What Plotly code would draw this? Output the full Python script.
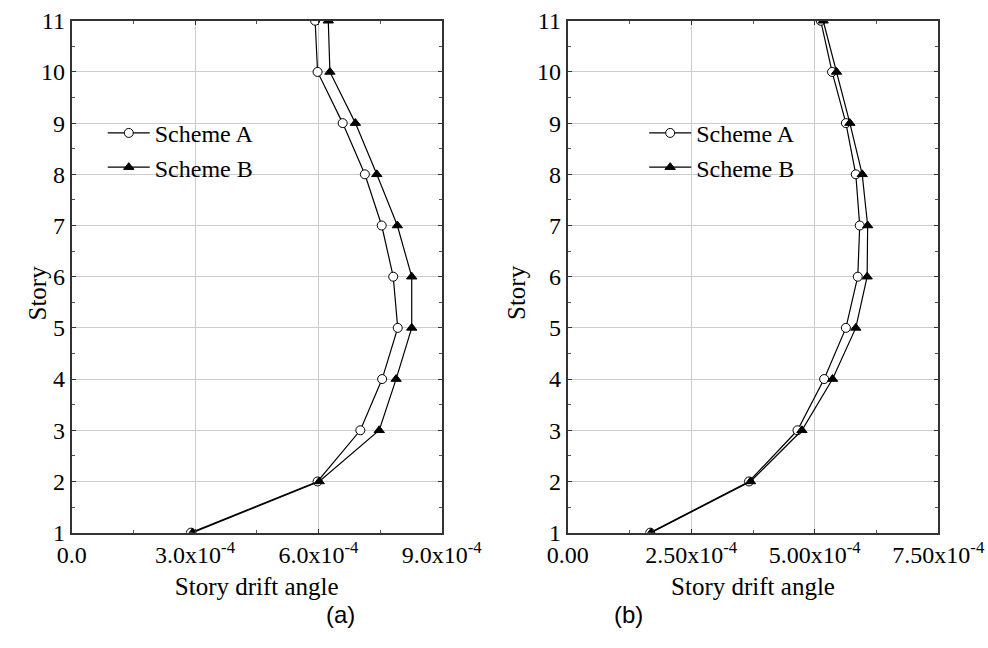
import plotly.graph_objects as go

stories = [1, 2, 3, 4, 5, 6, 7, 8, 9, 10, 11]

# (a) story drift angle, units of 1e-4
a_scheme_a = [2.90, 5.98, 7.02, 7.55, 7.93, 7.82, 7.54, 7.13, 6.59, 5.98, 5.92]
a_scheme_b = [2.94, 6.02, 7.48, 7.89, 8.27, 8.27, 7.92, 7.42, 6.90, 6.28, 6.24]

# (b) story drift angle, units of 1e-4
b_scheme_a = [1.67, 3.67, 4.65, 5.19, 5.63, 5.87, 5.91, 5.83, 5.63, 5.35, 5.12]
b_scheme_b = [1.69, 3.70, 4.74, 5.36, 5.83, 6.06, 6.07, 5.96, 5.71, 5.44, 5.17]

a_xticks = [0.0, 3.0e-4, 6.0e-4, 9.0e-4]
a_xticktext = ["0.0", "3.0x10<sup>-4</sup>", "6.0x10<sup>-4</sup>", "9.0x10<sup>-4</sup>"]
b_xticks = [0.0, 2.5e-4, 5.0e-4, 7.5e-4]
b_xticktext = ["0.00", "2.50x10<sup>-4</sup>", "5.00x10<sup>-4</sup>", "7.50x10<sup>-4</sup>"]
yticks = [1, 2, 3, 4, 5, 6, 7, 8, 9, 10, 11]

SERIF = "Liberation Serif"
FS = 24

fig = go.Figure()

def add(xs, name, symbol, fill, xa, ya, legend):
    fig.add_trace(go.Scatter(
        x=[v * 1e-4 for v in xs], y=stories, name=name, mode="lines+markers",
        line=dict(color="black", width=1.2),
        marker=dict(symbol=symbol, size=9, color=fill, line=dict(color="black", width=1)),
        xaxis=xa, yaxis=ya, legend=legend))

add(a_scheme_a, "Scheme A", "circle", "white", "x", "y", "legend")
add(a_scheme_b, "Scheme B", "triangle-up", "black", "x", "y", "legend")
add(b_scheme_a, "Scheme A", "circle", "white", "x2", "y2", "legend2")
add(b_scheme_b, "Scheme B", "triangle-up", "black", "x2", "y2", "legend2")

def xaxis(dom, rng, tv, tt, anchor):
    return dict(domain=dom, range=rng, anchor=anchor, tickvals=tv, ticktext=tt,
                automargin=False,
                showgrid=True, gridcolor="#cccccc", gridwidth=1,
                showline=True, linecolor="#333333", linewidth=2, mirror="allticks",
                ticks="inside", ticklen=4, tickcolor="#333333",
                minor=dict(ticks="inside", ticklen=3, tickcolor="#555555", showgrid=False,
                           tickvals=[(tv[i] + tv[i + 1]) / 2 for i in range(len(tv) - 1)]),
                tickfont=dict(family=SERIF, size=FS, color="black"),
                title=dict(text="Story drift angle", font=dict(family=SERIF, size=25, color="black"),
                           standoff=10),
                zeroline=False)

def yaxis(dom, anchor):
    return dict(domain=dom, range=[1, 11], anchor=anchor, tickvals=yticks,
                automargin=False,
                showgrid=True, gridcolor="#cccccc", gridwidth=1,
                showline=True, linecolor="#333333", linewidth=2, mirror="allticks",
                ticks="inside", ticklen=4, tickcolor="#333333",
                minor=dict(ticks="inside", ticklen=3, tickcolor="#555555", showgrid=False,
                           tickvals=[v + 0.5 for v in yticks[:-1]]),
                tickfont=dict(family=SERIF, size=FS, color="black"),
                zeroline=False)

ydom = [0.178, 0.968]
title_font = dict(family=SERIF, size=25, color="black")
fig.update_layout(
    width=988, height=648,
    margin=dict(l=0, r=0, t=0, b=0),
    paper_bgcolor="white", plot_bgcolor="white",
    font=dict(family=SERIF),
    xaxis=xaxis([0.0726, 0.4471], [0, 9e-4], a_xticks, a_xticktext, "y"),
    yaxis=yaxis(ydom, "x"),
    xaxis2=xaxis([0.5746, 0.9497], [0, 7.5e-4], b_xticks, b_xticktext, "y2"),
    yaxis2=yaxis(ydom, "x2"),
    legend=dict(x=0.104, y=0.768, xanchor="left", yanchor="middle", bgcolor="rgba(0,0,0,0)",
                itemwidth=42, font=dict(family=SERIF, size=FS, color="black"), tracegroupgap=0),
    legend2=dict(x=0.652, y=0.768, xanchor="left", yanchor="middle", bgcolor="rgba(0,0,0,0)",
                 itemwidth=42, font=dict(family=SERIF, size=FS, color="black"), tracegroupgap=0),
    annotations=[
        dict(text="Story", x=21 / 988, y=1 - 293 / 648, xref="paper", yref="paper",
             textangle=-90, showarrow=False, font=title_font),
        dict(text="Story", x=516 / 988, y=1 - 293 / 648, xref="paper", yref="paper",
             textangle=-90, showarrow=False, font=title_font),
        dict(text="(a)", x=340 / 988, y=1 - 630 / 648, xref="paper", yref="paper",
             showarrow=False, font=dict(family="Liberation Sans", size=24, color="black")),
        dict(text="(b)", x=628 / 988, y=1 - 630 / 648, xref="paper", yref="paper",
             showarrow=False, font=dict(family="Liberation Sans", size=24, color="black")),
    ],
)

fig.write_html("out.html")
